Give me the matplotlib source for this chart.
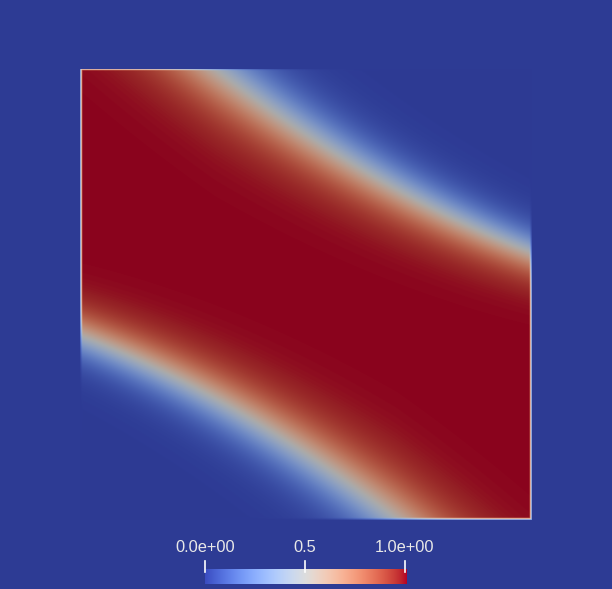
import numpy as np
import matplotlib
matplotlib.use('Agg')
import matplotlib.pyplot as plt
from matplotlib.lines import Line2D

# upper edge of the red band (value 0.5), in domain units
upper_x = [0.30, 0.40, 0.55, 0.78, 0.87, 1.00]
upper_y = [1.00, 0.915, 0.825, 0.685, 0.65, 0.59]
# how soft that edge is along it (wider near the top, sharper near the right side)
soft_x = [0.30, 1.00]
soft_w = [0.040, 0.027]
# lower edge is the same curve turned 180 degrees about the centre
lower_x = [1 - v for v in upper_x]
lower_y = [1 - v for v in upper_y]
shade = 0.77   # surface looks darker than the colour bar (lighting)

cbar_ticks = [0.0, 0.5, 1.0]
cbar_labels = ['0.0e+00', '0.5', '1.0e+00']

W, H = 612, 589
bg = np.array(plt.cm.coolwarm(0.0)[:3]) * shade

fig = plt.figure(figsize=(W / 100, H / 100), dpi=100)
fig.patch.set_facecolor(bg)

# field on the square
n = 900
xs = (np.arange(n) + 0.5) / n
X, Y = np.meshgrid(xs, xs)
pu = np.polyfit(upper_x, upper_y, 2)
pl = np.polyfit(lower_x, lower_y, 2)

def side(p, sign, xw):
    yc = np.polyval(p, X)
    slope = np.polyval(np.polyder(p), X)
    d = (yc - Y) / np.sqrt(1 + slope ** 2)
    w = np.interp(xw, soft_x, soft_w)
    return 1 / (1 + np.exp(-sign * d / w))

field = side(pu, 1, X) * side(pl, -1, 1 - X)

# light rim at the border of the surface
dmin = np.minimum(np.minimum(X, 1 - X), np.minimum(Y, 1 - Y)) * 451
rim = np.clip(dmin / 2.5, 0, 1)
val = field * rim + 0.12 * field * (1 - rim) * (dmin < 2.5)
rgb = np.array(plt.cm.coolwarm(np.clip(val, 0, 1)))[..., :3] * shade
# rim is a bit brighter than the shaded surface
glow = np.clip(1 - np.abs(dmin - 1.2) / 1.5, 0, 1)[..., None] * field[..., None]
rgb = np.clip(rgb * (1 + 0.3 * glow), 0, 1)

ax = fig.add_axes([79.5 / W, 68.5 / H, 451.5 / W, 452 / H])
ax.imshow(rgb, origin='lower', extent=[0, 1, 0, 1], aspect='auto')
ax.set_axis_off()

# colour bar
cx0, cx1 = 205, 406
cax = fig.add_axes([cx0 / W, 5 / H, (cx1 - cx0) / W, 15 / H])
cax.imshow(np.linspace(0, 1, 256)[None, :], cmap='coolwarm', aspect='auto',
           extent=[0, 1, 0, 1])
cax.set_axis_off()

for t, lab in zip(cbar_ticks, cbar_labels):
    xp = (cx0 + 0.5 + t * (cx1 - cx0 - 1.5)) / W
    fig.add_artist(Line2D([xp, xp], [(H - 572) / H, (H - 561) / H],
                          transform=fig.transFigure, color='white', lw=1.2))
    fig.text(xp, (H - 548) / H, lab, ha='center', va='center', color='#e8e8e8',
             fontsize=11.8, family='Liberation Sans')

fig.savefig('out.png', dpi=100, facecolor=fig.get_facecolor())
